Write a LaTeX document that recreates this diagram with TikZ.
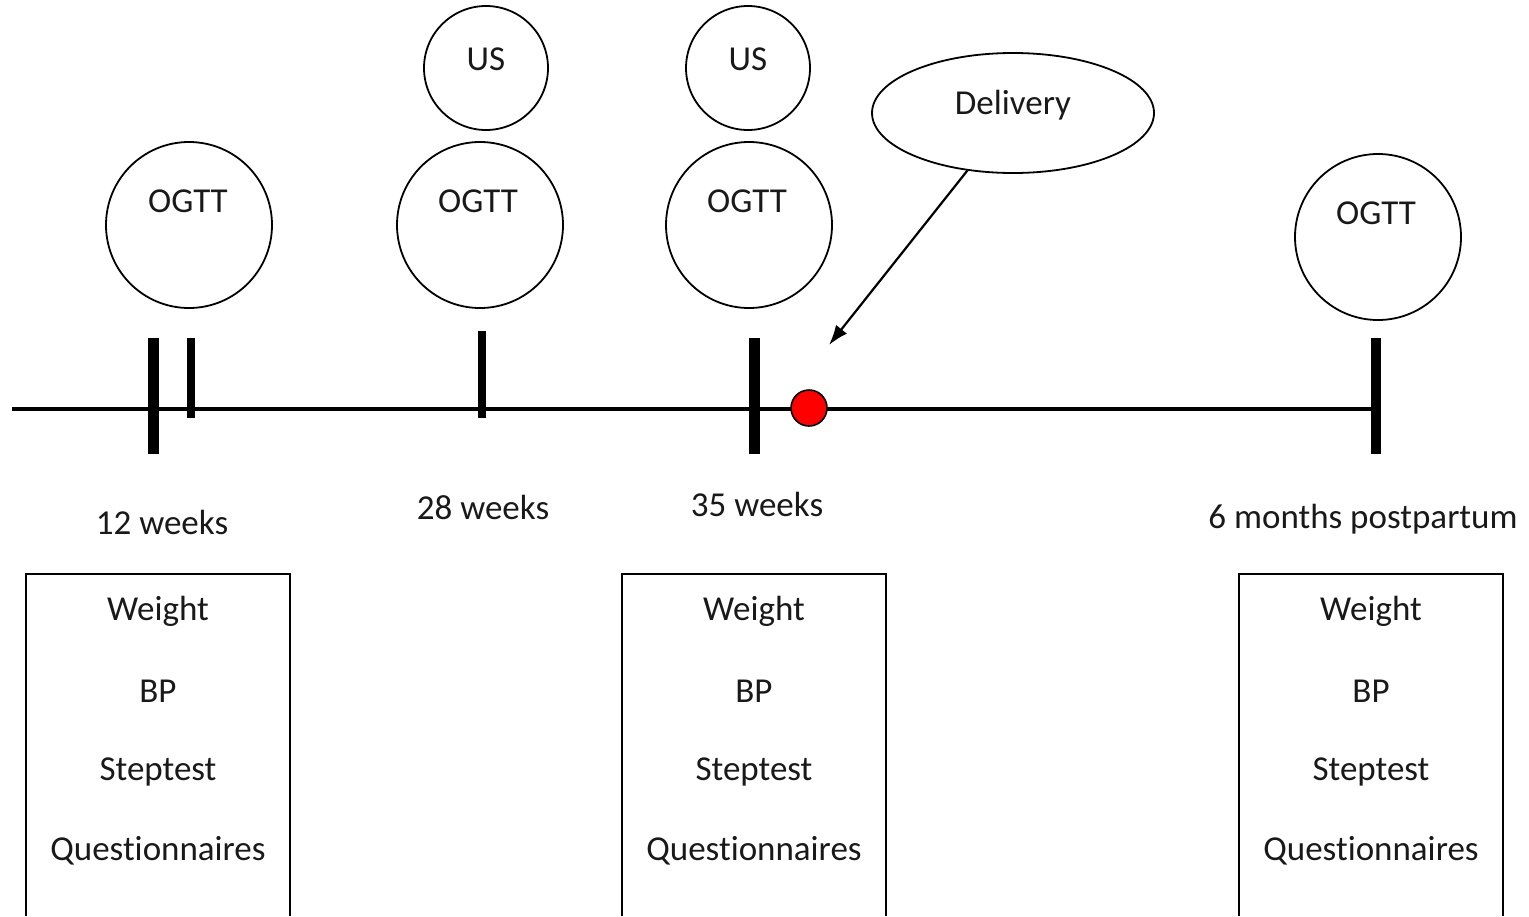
\documentclass[tikz,border=0pt]{standalone}
\usepackage{fontspec}
\setmainfont{Carlito}[Ligatures=NoCommon]
\usetikzlibrary{arrows.meta,shapes.geometric}
\begin{document}
\begin{tikzpicture}[x=0.5pt,y=-0.5pt,
  every node/.style={font=\fontsize{17.5}{20}\selectfont, text=black!90},
  bigc/.style={draw, circle, line width=0.9pt, minimum size=83pt, inner sep=0pt},
  smallc/.style={draw, circle, line width=0.9pt, minimum size=62pt, inner sep=0pt},
  ell/.style={draw, ellipse, line width=0.9pt, minimum width=141pt, minimum height=60pt, inner sep=0pt},
  thick tick/.style={line width=5.5pt},
  thin tick/.style={line width=4pt},
  tl/.style={line width=2pt},
  boxline/.style={line width=0.9pt},
  lbl/.style={inner sep=0pt}]
\useasboundingbox (0,0) rectangle (1529,916);
% circles
\node[bigc] (o1) at (189,225) {};
\node[bigc] (o2) at (480,225) {};
\node[bigc] (o3) at (749,225) {};
\node[bigc] (o4) at (1378,237) {};
\node[lbl] (o1t) at (188,201) {OGTT};
\node[lbl] (o2t) at (478,201) {OGTT};
\node[lbl] (o3t) at (747,201) {OGTT};
\node[lbl] (o4t) at (1376,213) {OGTT};
\node[smallc] (u1) at (486,68) {};
\node[smallc] (u2) at (748,68) {};
\node[lbl] (u1t) at (486,59) {US};
\node[lbl] (u2t) at (748,59) {US};
\node[ell] (del) at (1013,113) {};
\node[lbl] (delt) at (1013,105) {Delivery};
% timeline
\coordinate (s) at (12,409);
\coordinate (e) at (1376,409);
\draw[tl] (s) -- (e);
\coordinate (a1) at (153,338); \coordinate (b1) at (153,454);
\coordinate (a2) at (191,338); \coordinate (b2) at (191,418);
\coordinate (a3) at (482,331); \coordinate (b3) at (482,418);
\coordinate (a4) at (754,338); \coordinate (b4) at (754,454);
\coordinate (a5) at (1376,338); \coordinate (b5) at (1376,454);
\draw[thick tick] (a1) -- (b1);
\draw[thin tick] (a2) -- (b2);
\draw[thin tick] (a3) -- (b3);
\draw[thick tick] (a4) -- (b4);
\draw[line width=5pt] (a5) -- (b5);
\node[draw, circle, fill=red, line width=0.8pt, minimum size=18pt, inner sep=0pt] (dot) at (809,408) {};
% arrow
\coordinate (tip) at (829,345);
\draw[line width=1.1pt, -{Latex[length=10pt,width=7pt]}] (del) -- (tip);
% time labels
\node[lbl] (w12) at (162,522) {12 weeks};
\node[lbl] (w28) at (483,507) {28 weeks};
\node[lbl] (w35) at (757,504) {35 weeks};
\node[lbl] (m6) at (1363,519) {6 months postpartum};
% boxes
\draw[boxline] (26,916) -- (26,574) -- (290,574) -- (290,916);
\draw[boxline] (622,916) -- (622,574) -- (886,574) -- (886,916);
\draw[boxline] (1239,916) -- (1239,574) -- (1503,574) -- (1503,916);
\foreach \n/\x in {L/158, M/754, R/1371}{
  \node[lbl] (w\n) at (\x,611) {Weight};
  \node[lbl] (bp\n) at (\x,691) {BP};
  \node[lbl] (st\n) at (\x,772) {Steptest};
  \node[lbl] (q\n) at (\x,851) {Questionnaires};
}
\end{tikzpicture}
\end{document}
